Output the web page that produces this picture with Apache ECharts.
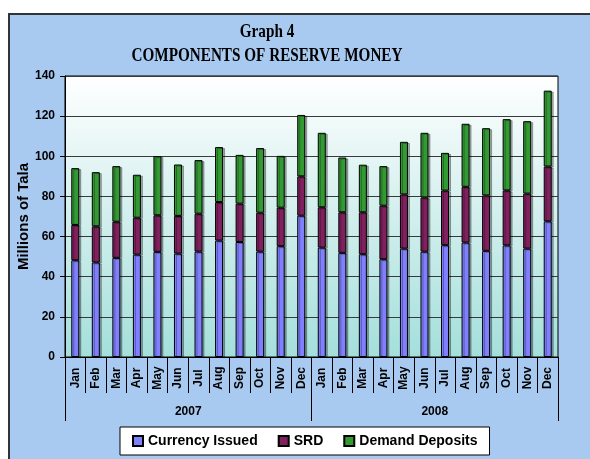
<!DOCTYPE html>
<html>
<head>
<meta charset="utf-8">
<script src="https://cdn.jsdelivr.net/npm/echarts@6/dist/echarts.min.js"></script>
<style>
html, body { margin: 0; padding: 0; background: #fff; }
#main { width: 590px; height: 459px; }
</style>
</head>
<body>
<div id="main"></div>
<script>
var months = ['Jan', 'Feb', 'Mar', 'Apr', 'May', 'Jun', 'Jul', 'Aug', 'Sep', 'Oct', 'Nov', 'Dec',
              'Jan', 'Feb', 'Mar', 'Apr', 'May', 'Jun', 'Jul', 'Aug', 'Sep', 'Oct', 'Nov', 'Dec'];
var years = ['2007', '2008'];
// millions of tala
var currencyIssued = [48.2, 47.1, 49.4, 51.0, 52.4, 51.5, 52.5, 58.0, 57.3, 52.5, 55.2, 70.4,
                      54.5, 51.9, 51.2, 48.7, 54.0, 52.5, 55.7, 57.0, 52.9, 55.6, 54.0, 67.6];
var srd = [17.6, 18.0, 18.0, 18.4, 18.2, 18.8, 18.9, 19.2, 19.1, 19.4, 19.2, 19.6,
           20.1, 20.2, 20.9, 26.7, 27.0, 27.0, 27.2, 27.8, 27.6, 27.4, 27.4, 27.3];
var demandDeposits = [28.3, 27.0, 27.7, 21.4, 29.5, 25.6, 26.7, 27.4, 24.3, 32.2, 25.8, 30.6,
                      37.1, 27.3, 23.7, 19.7, 26.2, 32.2, 18.8, 31.4, 33.5, 35.5, 36.1, 37.8];
var yTicks = [0, 20, 40, 60, 80, 100, 120, 140];

var myChart = echarts.init(document.getElementById('main'));

function barSeries(name, data, color) {
    return {
        name: name,
        type: 'bar',
        stack: 'money',
        barWidth: 8,
        data: data,
        itemStyle: {
            color: color,
            borderColor: '#000',
            borderWidth: 1,
            shadowColor: 'rgba(0,0,0,0.3)',
            shadowOffsetX: 2,
            shadowOffsetY: 1
        }
    };
}

var font = 'Liberation Sans';

var option = {
    backgroundColor: '#a9caf0',
    animation: false,
    graphic: [
        // white margin outside the frame, and the frame line
        { type: 'rect', shape: { x: 0, y: 0, width: 590, height: 13 }, style: { fill: '#fff' } },
        { type: 'rect', shape: { x: 0, y: 0, width: 8, height: 459 }, style: { fill: '#fff' } },
        { type: 'polyline', shape: { points: [[9, 459], [9, 14], [590, 14]] },
          style: { stroke: '#333', lineWidth: 2, fill: null } },
        { type: 'text', x: 267, y: 32, scaleX: 0.8,
          style: { text: 'Graph 4', fontFamily: 'Liberation Serif', fontWeight: 'bold', fontSize: 19,
                   fill: '#000', textAlign: 'center', textVerticalAlign: 'middle' } },
        { type: 'text', x: 267, y: 56, scaleX: 0.8,
          style: { text: 'COMPONENTS OF RESERVE MONEY', fontFamily: 'Liberation Serif', fontWeight: 'bold',
                   fontSize: 19, fill: '#000', textAlign: 'center', textVerticalAlign: 'middle' } }
    ],
    legend: {
        left: 120,
        top: 427,
        backgroundColor: '#fff',
        borderColor: '#000',
        borderWidth: 1,
        borderRadius: 0,
        padding: [7, 12, 7, 12],
        itemGap: 20,
        itemWidth: 10,
        itemHeight: 10,
        icon: 'rect',
        textStyle: { fontFamily: font, fontWeight: 'bold', fontSize: 14, color: '#000' },
        data: ['Currency Issued', 'SRD', 'Demand Deposits']
    },
    grid: {
        left: 65,
        right: 32,
        top: 76,
        bottom: 102,
        show: true,
        borderColor: '#000',
        borderWidth: 1,
        backgroundColor: new echarts.graphic.LinearGradient(0, 0, 0, 1, [
            { offset: 0, color: '#ffffff' },
            { offset: 1, color: '#a4dfdb' }
        ])
    },
    xAxis: [{
        type: 'category',
        data: months,
        axisLine: { lineStyle: { color: '#000', width: 1 } },
        axisTick: { show: true, interval: 0, alignWithLabel: false, length: 36,
                    lineStyle: { color: '#000', width: 1 } },
        axisLabel: {
            interval: 0,
            rotate: 90,
            align: 'center',
            verticalAlign: 'middle',
            margin: 21,
            fontFamily: font,
            fontWeight: 'bold',
            fontSize: 12,
            color: '#000'
        },
        splitLine: { show: false }
    }, {
        type: 'category',
        data: years,
        position: 'bottom',
        axisLine: { show: false },
        axisTick: { show: true, interval: 0, alignWithLabel: false, length: 64,
                    lineStyle: { color: '#000', width: 1 } },
        axisLabel: {
            interval: 0,
            margin: 49,
            fontFamily: font,
            fontWeight: 'bold',
            fontSize: 12,
            color: '#000'
        },
        splitLine: { show: false }
    }],
    yAxis: {
        type: 'value',
        min: yTicks[0],
        max: yTicks[yTicks.length - 1],
        interval: 20,
        name: 'Millions of Tala',
        nameLocation: 'middle',
        nameGap: 34,
        nameMoveOverlap: false,
        nameTextStyle: { fontFamily: font, fontWeight: 'bold', fontSize: 15, color: '#000' },
        axisLine: { show: true, lineStyle: { color: '#000' } },
        axisTick: { show: true, length: 5, lineStyle: { color: '#000' } },
        axisLabel: { margin: 10, fontFamily: font, fontWeight: 'bold', fontSize: 12, color: '#000' },
        splitLine: { show: true, lineStyle: { color: '#3a3a3a', width: 1 } }
    },
    series: [
        barSeries('Currency Issued', currencyIssued, '#8080ff'),
        barSeries('SRD', srd, '#80205f'),
        barSeries('Demand Deposits', demandDeposits, '#339933')
    ]
};

myChart.setOption(option);
</script>
</body>
</html>
